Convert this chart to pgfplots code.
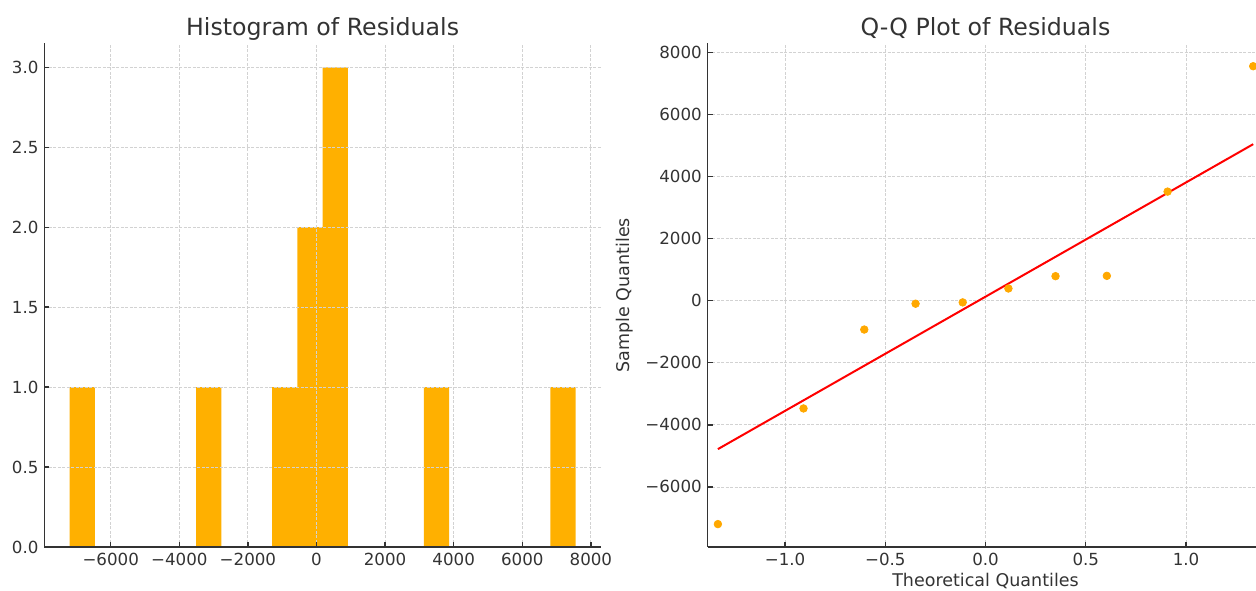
\documentclass[border=0pt]{standalone}
\usepackage{fontspec}
\setmainfont{DejaVu Sans}
\usepackage{pgfplots}
\pgfplotsset{compat=1.18}
\definecolor{barc}{RGB}{255,176,0}
\definecolor{ptc}{RGB}{255,168,0}
\definecolor{txt}{RGB}{51,51,51}
\definecolor{gridc}{RGB}{210,210,210}
\pgfplotsset{mystyle/.style={
  scale only axis,
  axis lines*=left,
  axis line style={txt, line width=0.9pt},
  tick align=inside,
  major tick length=3pt,
  tick style={txt, line width=0.8pt},
  grid=major,
  major grid style={gridc, line width=0.5pt, dash pattern=on 1.8pt off 0.9pt},
  ticklabel style={font=\fontsize{10}{12}\selectfont, text=txt},
  label style={font=\fontsize{10.5}{12}\selectfont, text=txt},
  title style={font=\fontsize{14.2}{16}\selectfont, text=txt},
  height=302.2pt,
}}
\begin{document}
\begin{tikzpicture}
\useasboundingbox (0,0) rectangle (753.6pt,354pt);
\begin{axis}[mystyle, axis on top, at={(26.58pt,25.8pt)}, anchor=south west, width=334pt,
  xmin=-7936, xmax=8294, ymin=0, ymax=3.15,
  xtick={-6000,-4000,-2000,0,2000,4000,6000,8000},
  xticklabels={−6000,−4000,−2000,0,2000,4000,6000,8000},
  ytick={0,0.5,1,1.5,2,2.5,3},
  yticklabels={0.0,0.5,1.0,1.5,2.0,2.5,3.0},
  title={Histogram of Residuals},
  title style={at={(0.5,1)}, anchor=base, yshift=-1.1pt}]
\addplot[ybar interval, fill=barc, draw=none] table {
x y
-7198.0 1
-6460.3 0
-5722.6 0
-4984.9 0
-4247.2 0
-3509.5 1
-2771.8 0
-2034.1 0
-1296.4 1
-558.7 2
179.0 3
916.7 0
1654.4 0
2392.1 0
3129.8 1
3867.5 0
4605.2 0
5342.9 0
6080.6 0
6818.3 1
7556.0 0
};
\end{axis}
\begin{axis}[mystyle, at={(424.6pt,25.8pt)}, anchor=south west, width=329pt,
  xmin=-1.386, xmax=1.349, ymin=-7936, ymax=8294,
  xtick={-1,-0.5,0,0.5,1},
  xticklabels={−1.0,−0.5,0.0,0.5,1.0},
  ytick={-6000,-4000,-2000,0,2000,4000,6000,8000},
  yticklabels={−6000,−4000,−2000,0,2000,4000,6000,8000},
  title={Q-Q Plot of Residuals},
  title style={at={(0.5067,1)}, anchor=base, yshift=-1.1pt},
  xlabel={Theoretical Quantiles},
  xlabel style={at={(0.5067,0)}, anchor=base, yshift=-23.4pt},
  ylabel={Sample Quantiles},
  ylabel style={at={(0,0.5)}, anchor=base, yshift=46.9pt}]
\addplot[color=ptc, only marks, mark=*, mark size=2.3pt, mark options={solid, draw=ptc, fill=ptc, line width=0.4pt}] coordinates {
(-1.335,-7198) (-0.908,-3471) (-0.605,-929) (-0.349,-96) (-0.114,-54)
(0.114,394) (0.349,791) (0.605,801) (0.908,3516) (1.335,7556)};
\addplot[red, line width=1.2pt] coordinates {(-1.335,-4782) (1.335,5044)};
\end{axis}
\end{tikzpicture}
\end{document}
